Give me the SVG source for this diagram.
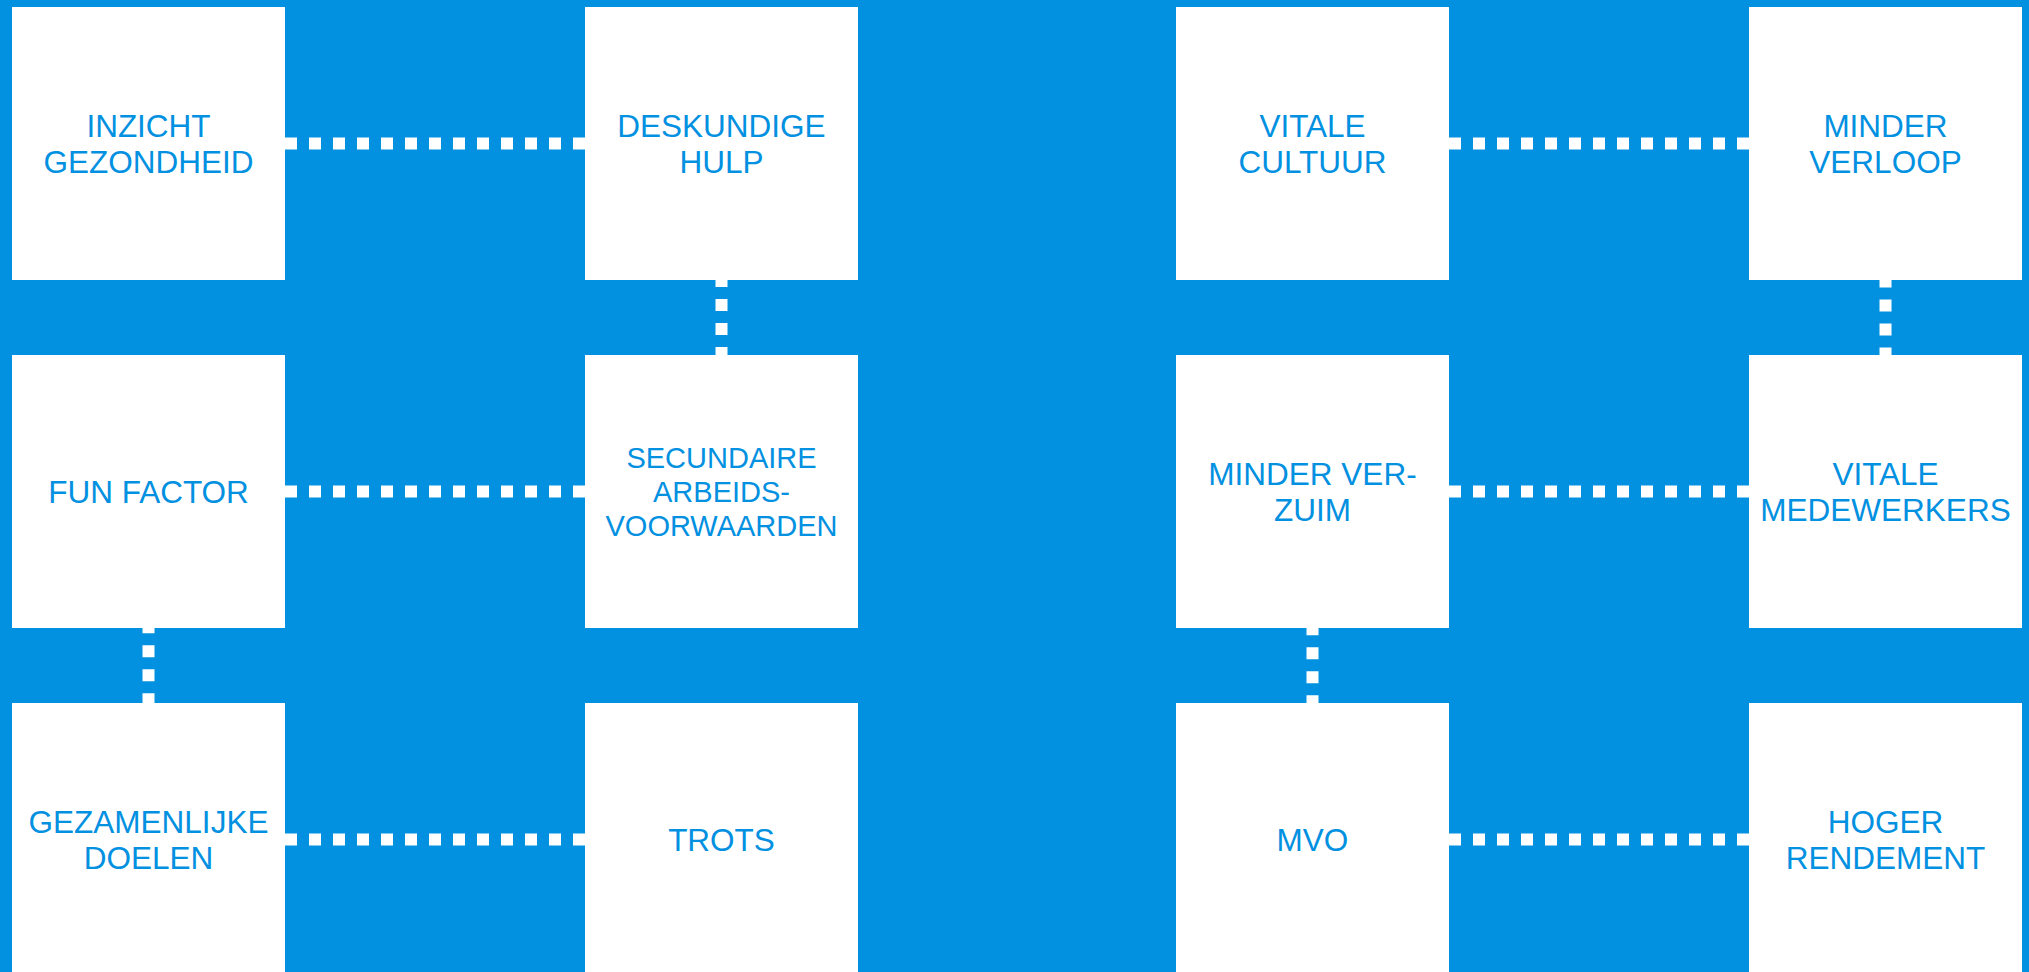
<svg xmlns="http://www.w3.org/2000/svg" width="2029" height="972" viewBox="0 0 2029 972">
  <style>
    .box { fill: #ffffff; }
    .lbl { font-family: "Liberation Sans", Arial, sans-serif; font-size: 31.5px; fill: #0290e1; text-anchor: middle; }
    .small { font-size: 29px; }
    .dash { stroke: #ffffff; stroke-width: 12; stroke-dasharray: 12 12; fill: none; }
  </style>
  <rect x="0" y="0" width="2029" height="972" fill="#0290e1"/>
  <g id="connectors">
    <line class="dash" x1="285" y1="143.5" x2="585" y2="143.5"/>
    <line class="dash" x1="285" y1="491.5" x2="585" y2="491.5"/>
    <line class="dash" x1="285" y1="839.5" x2="585" y2="839.5"/>
    <line class="dash" x1="1449" y1="143.5" x2="1749" y2="143.5"/>
    <line class="dash" x1="1449" y1="491.5" x2="1749" y2="491.5"/>
    <line class="dash" x1="1449" y1="839.5" x2="1749" y2="839.5"/>
    <line class="dash" x1="721.5" y1="280" x2="721.5" y2="355" stroke-dashoffset="5"/>
    <line class="dash" x1="1885.5" y1="280" x2="1885.5" y2="355" stroke-dashoffset="4.5"/>
    <line class="dash" x1="148.5" y1="627.7" x2="148.5" y2="703" stroke-dashoffset="6.4"/>
    <line class="dash" x1="1312.5" y1="627.7" x2="1312.5" y2="703" stroke-dashoffset="4.5"/>
  </g>
  <g id="inzicht-gezondheid">
    <rect class="box" x="12" y="7" width="273" height="273"/>
    <text class="lbl" x="148.5" y="136.5">INZICHT</text>
    <text class="lbl" x="148.5" y="173">GEZONDHEID</text>
  </g>
  <g id="deskundige-hulp">
    <rect class="box" x="585" y="7" width="273" height="273"/>
    <text class="lbl" x="721.5" y="136.5">DESKUNDIGE</text>
    <text class="lbl" x="721.5" y="173">HULP</text>
  </g>
  <g id="vitale-cultuur">
    <rect class="box" x="1176" y="7" width="273" height="273"/>
    <text class="lbl" x="1312.5" y="136.5">VITALE</text>
    <text class="lbl" x="1312.5" y="173">CULTUUR</text>
  </g>
  <g id="minder-verloop">
    <rect class="box" x="1749" y="7" width="273" height="273"/>
    <text class="lbl" x="1885.5" y="136.5">MINDER</text>
    <text class="lbl" x="1885.5" y="173">VERLOOP</text>
  </g>
  <g id="fun-factor">
    <rect class="box" x="12" y="355" width="273" height="273"/>
    <text class="lbl" x="148.5" y="502.8">FUN FACTOR</text>
  </g>
  <g id="secundaire-arbeidsvoorwaarden">
    <rect class="box" x="585" y="355" width="273" height="273"/>
    <text class="lbl small" x="721.5" y="468.2">SECUNDAIRE</text>
    <text class="lbl small" x="721.5" y="501.9">ARBEIDS-</text>
    <text class="lbl small" x="721.5" y="535.7">VOORWAARDEN</text>
  </g>
  <g id="minder-verzuim">
    <rect class="box" x="1176" y="355" width="273" height="273"/>
    <text class="lbl" x="1312.5" y="484.5">MINDER VER-</text>
    <text class="lbl" x="1312.5" y="521">ZUIM</text>
  </g>
  <g id="vitale-medewerkers">
    <rect class="box" x="1749" y="355" width="273" height="273"/>
    <text class="lbl" x="1885.5" y="484.5">VITALE</text>
    <text class="lbl" x="1885.5" y="521">MEDEWERKERS</text>
  </g>
  <g id="gezamenlijke-doelen">
    <rect class="box" x="12" y="703" width="273" height="273"/>
    <text class="lbl" x="148.5" y="832.5">GEZAMENLIJKE</text>
    <text class="lbl" x="148.5" y="869">DOELEN</text>
  </g>
  <g id="trots">
    <rect class="box" x="585" y="703" width="273" height="273"/>
    <text class="lbl" x="721.5" y="850.8">TROTS</text>
  </g>
  <g id="mvo">
    <rect class="box" x="1176" y="703" width="273" height="273"/>
    <text class="lbl" x="1312.5" y="850.8">MVO</text>
  </g>
  <g id="hoger-rendement">
    <rect class="box" x="1749" y="703" width="273" height="273"/>
    <text class="lbl" x="1885.5" y="832.5">HOGER</text>
    <text class="lbl" x="1885.5" y="869">RENDEMENT</text>
  </g>
</svg>
